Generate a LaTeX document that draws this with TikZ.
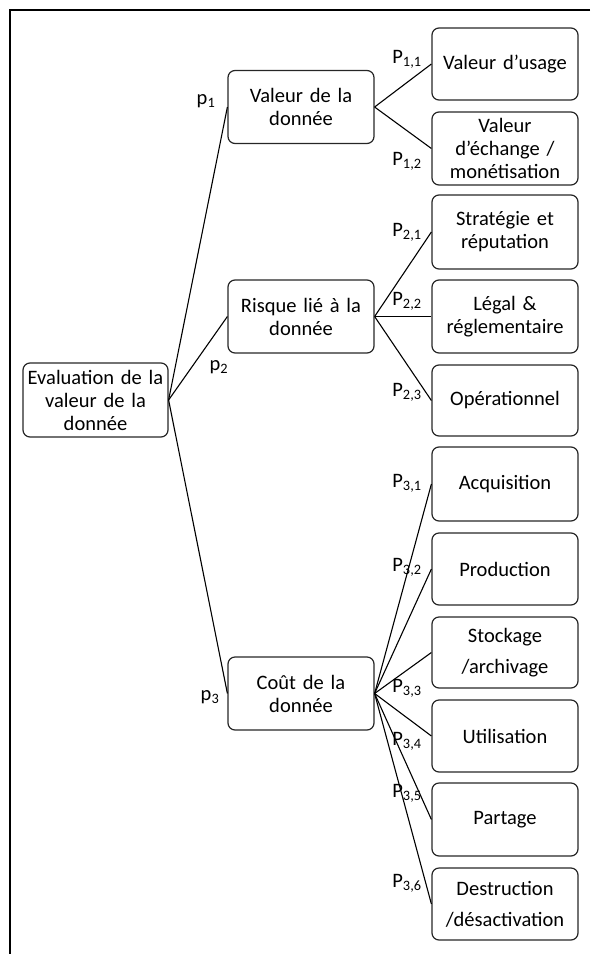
\documentclass[tikz,border=0pt]{standalone}
\usepackage{fontspec}
\setmainfont{Carlito}
\begin{document}
\begin{tikzpicture}[x=1pt,y=-1pt,
  box/.style={draw=black!85, line width=1.2pt, rounded corners=7pt, minimum width=146pt, minimum height=73pt, inner sep=0pt, align=center, text width=144pt, font=\fontsize{20.5}{23}\selectfont},
  conn/.style={draw=black, line width=1.1pt},
  lab/.style={font=\fontsize{20.5}{23}\selectfont, inner sep=0pt}]
\useasboundingbox (0,0) rectangle (592,954);
\draw[line width=1.4pt] (590,10) -- (10,10) -- (10,954);
% nodes
\node[box, minimum width=145pt, minimum height=74pt] (root) at (95.5,400) {Evaluation de la\\valeur de la\\donnée};
\node[box] (v) at (301,107) {Valeur de la\\donnée};
\node[box] (r) at (301,316.5) {Risque lié à la\\donnée};
\node[box] (c) at (301,693.5) {Coût de la\\donnée};
\node[box, minimum height=72pt] (v1) at (505,64) {Valeur d’usage};
\node[box] (v2) at (505,148.5) {Valeur\\d’échange /\\monétisation};
\node[box, minimum height=74pt] (r1) at (505,232) {Stratégie et\\réputation};
\node[box] (r2) at (505,316.5) {Légal \&\\réglementaire};
\node[box, minimum height=71pt] (r3) at (505,400.5) {Opérationnel};
\node[box, minimum height=74pt] (c1) at (505,484) {Acquisition};
\node[box, minimum height=72pt] (c2) at (505,569) {Production};
\node[box, minimum height=71pt, font=\fontsize{20.5}{31}\selectfont] (c3) at (505,652.5) {Stockage\\/archivage};
\node[box, minimum height=72pt] (c4) at (505,736) {Utilisation};
\node[box, minimum height=73pt] (c5) at (505,819.5) {Partage};
\node[box, minimum height=72pt, font=\fontsize{20.5}{31}\selectfont] (c6) at (505,904) {Destruction\\/désactivation};
% connectors
\foreach \t in {v,r,c} \draw[conn] (root.east) -- (\t.west);
\foreach \t in {v1,v2} \draw[conn] (v.east) -- (\t.west);
\foreach \t in {r1,r2,r3} \draw[conn] (r.east) -- (\t.west);
\foreach \t in {c1,c2,c3,c4,c5,c6} \draw[conn] (c.east) -- (\t.west);
% labels
\node[lab] (p1) at (206,101) {p\textsubscript{1}};
\node[lab] (p2) at (219,367) {p\textsubscript{2}};
\node[lab] (p3) at (210,697) {p\textsubscript{3}};
\node[lab] (q11) at (407,59) {P\textsubscript{1,1}};
\node[lab] (q12) at (407,161) {P\textsubscript{1,2}};
\node[lab] (q21) at (407,232) {P\textsubscript{2,1}};
\node[lab] (q22) at (407,301) {P\textsubscript{2,2}};
\node[lab] (q23) at (407,392) {P\textsubscript{2,3}};
\node[lab] (q31) at (407,483) {P\textsubscript{3,1}};
\node[lab] (q32) at (407,567) {P\textsubscript{3,2}};
\node[lab] (q33) at (407,688) {P\textsubscript{3,3}};
\node[lab] (q34) at (407,741) {P\textsubscript{3,4}};
\node[lab] (q35) at (407,793) {P\textsubscript{3,5}};
\node[lab] (q36) at (407,883) {P\textsubscript{3,6}};
\end{tikzpicture}
\end{document}
